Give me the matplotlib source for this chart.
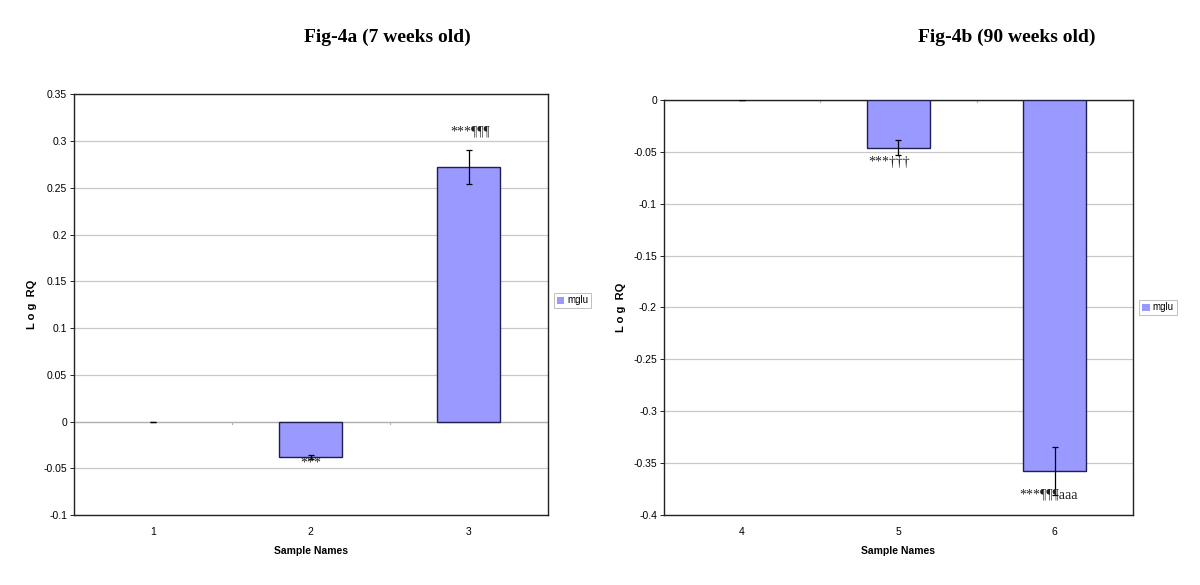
import matplotlib
matplotlib.use("Agg")
import matplotlib.pyplot as plt
import numpy as np

# Data
cats_a = ["1", "2", "3"]
vals_a = [0.0, -0.038, 0.272]
err_a = [0.0, 0.002, 0.018]
notes_a = ["", "***", "***¶¶¶"]
title_a = "Fig-4a (7 weeks old)"

cats_b = ["4", "5", "6"]
vals_b = [0.0, -0.046, -0.3576]
err_b = [0.0, 0.007, 0.0235]
notes_b = ["", "***†††", "***¶¶¶aaa"]
title_b = "Fig-4b (90 weeks old)"

series_name = "mglu"

BAR = "#9999ff"
EDGE = "#1f1f4f"
SANS = "Liberation Sans"
SERIF = "Liberation Serif"

fig = plt.figure(figsize=(12, 5.85), dpi=100)
fig.patch.set_facecolor("white")


def fmt(t):
    s = "%g" % t
    return "0" if s in ("-0", "0") else s


def draw(ax, cats, vals, errs, notes, ylim, yticks, note_pos, leg_y):
    x = np.arange(1, len(cats) + 1)
    lws = [0 if v == 0 else 1.0 for v in vals]
    ax.bar(x, vals, width=0.4, color=BAR, edgecolor=EDGE, linewidth=lws,
           label=series_name, zorder=3)
    ax.errorbar(x, vals, yerr=errs, fmt="none", ecolor="black", elinewidth=0.9,
                capsize=2.5, capthick=0.9, zorder=4)
    ax.set_xlim(0.5, len(cats) + 0.5)
    ax.set_ylim(*ylim)
    ax.set_yticks(yticks)
    ax.set_yticklabels([fmt(t) for t in yticks], fontsize=7.5, family=SANS)
    ax.set_xticks(x)
    ax.set_xticklabels(cats, fontsize=7.5, family=SANS)
    ax.tick_params(axis="x", length=0, pad=9)
    ax.tick_params(axis="y", length=3, width=0.6, pad=2)
    ax.yaxis.grid(True, color="#c8c8c8", linewidth=0.9, zorder=0)
    ax.set_axisbelow(True)
    for s in ax.spines.values():
        s.set_color("#222222")
        s.set_linewidth(1.0)
    # category axis at y=0
    ax.axhline(0, color="#b0b0b0", linewidth=0.9, zorder=1)
    for b in x[:-1] + 0.5:
        ax.plot([b, b], [0, 0 - (ylim[1] - ylim[0]) * 0.006], color="#b0b0b0",
                linewidth=0.8, zorder=1)
    ax.set_xlabel("Sample Names", fontsize=7.5, family=SANS, fontweight="bold",
                  labelpad=6)
    ax.set_ylabel("L o g  RQ", fontsize=8, family=SANS, fontweight="bold",
                  labelpad=5)
    for xi, note, (dx, y) in zip(x, notes, note_pos):
        if note:
            ax.text(xi + dx, y, note, fontsize=10, family=SERIF, ha="center",
                    va="center", color="#222222", zorder=5)
    leg = ax.legend(loc="center left", bbox_to_anchor=(1.014, leg_y),
                    prop={"family": SANS, "size": 7}, frameon=True, fancybox=False,
                    handlelength=0.75, handleheight=0.75, handletextpad=0.3,
                    borderpad=0.3, borderaxespad=0)
    leg.get_frame().set_edgecolor("#b0b0b0")
    leg.get_frame().set_linewidth(0.7)


ax1 = fig.add_axes([0.0617, 0.1197, 0.3946, 0.719])
draw(ax1, cats_a, vals_a, err_a, notes_a, (-0.1, 0.35),
     np.round(np.arange(-0.1, 0.351, 0.05), 2),
     [(0, 0), (0.0, -0.0445), (0.01, 0.3095)], 0.51)

ax2 = fig.add_axes([0.5533, 0.1197, 0.3908, 0.7094])
draw(ax2, cats_b, vals_b, err_b, notes_b, (-0.4, 0.0),
     np.round(np.arange(-0.4, 0.001, 0.05), 2),
     [(0, 0), (-0.06, -0.0605), (-0.04, -0.381)], 0.50)

fig.text(0.3225, 0.937, title_a, fontsize=14, family=SERIF, fontweight="bold",
         ha="center", va="center")
fig.text(0.839, 0.937, title_b, fontsize=14, family=SERIF, fontweight="bold",
         ha="center", va="center")

fig.savefig("out.png", dpi=100, facecolor="white")
